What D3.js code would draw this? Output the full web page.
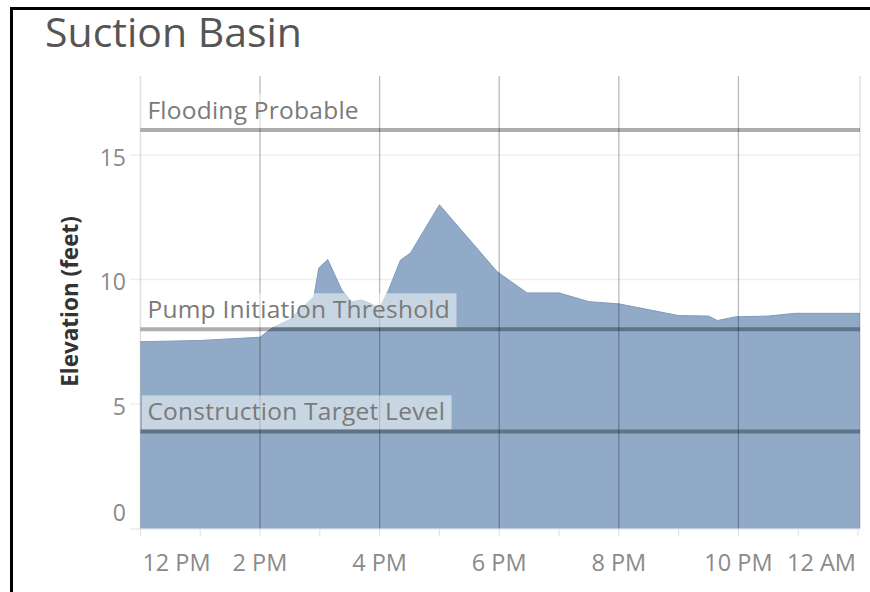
<!DOCTYPE html>
<html>
<head>
<meta charset="utf-8">
<script src="https://cdn.jsdelivr.net/npm/d3@7"></script>
<style>
  html, body { margin: 0; padding: 0; background: #fff; }
  svg { display: block; font-family: "Open Sans", "Noto Sans", sans-serif; }
</style>
</head>
<body>
<svg id="chart" width="870" height="592"></svg>
<script>
// ---------- data ----------
const chartTitle = "Suction Basin";
const yAxisTitle = "Elevation (feet)";
const times = [
  "2024-01-01 12:00", "2024-01-01 13:00", "2024-01-01 14:00", "2024-01-01 14:12",
  "2024-01-01 14:29", "2024-01-01 14:54", "2024-01-01 14:59", "2024-01-01 15:08",
  "2024-01-01 15:22", "2024-01-01 15:32", "2024-01-01 15:42", "2024-01-01 15:49",
  "2024-01-01 16:00", "2024-01-01 16:09", "2024-01-01 16:21", "2024-01-01 16:31",
  "2024-01-01 17:00", "2024-01-01 17:58", "2024-01-01 18:28", "2024-01-01 19:00",
  "2024-01-01 19:30", "2024-01-01 20:00", "2024-01-01 21:00", "2024-01-01 21:30",
  "2024-01-01 21:39", "2024-01-01 21:57", "2024-01-01 22:30", "2024-01-01 22:57",
  "2024-01-02 00:02"
];
const elevation = [
  7.50, 7.55, 7.68, 8.05,
  8.37, 9.30, 10.46, 10.80,
  9.58, 9.10, 9.18, 9.06,
  8.85, 9.58, 10.78, 11.06,
  13.00, 10.31, 9.46, 9.46,
  9.11, 9.02, 8.55, 8.53,
  8.35, 8.50, 8.53, 8.64,
  8.64
];
const refLabels = ["Flooding Probable", "Pump Initiation Threshold", "Construction Target Level"];
const refValues = [16, 8, 3.9];
const yTickValues = [0, 5, 10, 15];
const xTickTimes = [
  "2024-01-01 12:00", "2024-01-01 14:00", "2024-01-01 16:00", "2024-01-01 18:00",
  "2024-01-01 20:00", "2024-01-01 22:00", "2024-01-02 00:00"
];
const xTickLabels = ["12 PM", "2 PM", "4 PM", "6 PM", "8 PM", "10 PM", "12 AM"];
const xDomain = ["2024-01-01 12:00", "2024-01-02 00:02"];
const yDomain = [0, 18.17];

// ---------- setup ----------
const parse = d3.timeParse("%Y-%m-%d %H:%M");
const data = times.map((t, i) => ({ t: parse(t), v: elevation[i] }));

const svg = d3.select("#chart");
const pane = { left: 140.4, right: 860, top: 76, bottom: 528.5 };

const x = d3.scaleTime()
  .domain(xDomain.map(parse))
  .range([pane.left, pane.right]);
const y = d3.scaleLinear()
  .domain(yDomain)
  .range([pane.bottom, pane.top]);

// frame
svg.append("path")
  .attr("d", "M11.5,592 V8.5 H870")
  .attr("fill", "none")
  .attr("stroke", "#000")
  .attr("stroke-width", 3);

// title
svg.append("text")
  .attr("x", 45).attr("y", 47)
  .attr("font-size", 41)
  .attr("fill", "#555")
  .text(chartTitle);

// horizontal gridlines
svg.append("g").selectAll("line")
  .data(yTickValues.filter(v => v > 0))
  .join("line")
  .attr("x1", 130).attr("x2", pane.right)
  .attr("y1", d => y(d)).attr("y2", d => y(d))
  .attr("stroke", "#efefef").attr("stroke-width", 1.5);

// baseline and hourly ticks
svg.append("line")
  .attr("x1", 130).attr("x2", pane.right)
  .attr("y1", y(0) + 0.5).attr("y2", y(0) + 0.5)
  .attr("stroke", "#e4e4e4").attr("stroke-width", 1.2);
const hourTicks = x.ticks(d3.timeHour.every(1));
svg.append("g").selectAll("line")
  .data(hourTicks)
  .join("line")
  .attr("x1", d => x(d)).attr("x2", d => x(d))
  .attr("y1", y(0)).attr("y2", y(0) + 8)
  .attr("stroke", "#e4e4e4").attr("stroke-width", 1.2);

// area
const area = d3.area()
  .x(d => x(d.t))
  .y0(y(0))
  .y1(d => y(d.v));
svg.append("path")
  .datum(data)
  .attr("d", area)
  .attr("fill", "rgb(145,170,199)");
svg.append("path")
  .datum(data)
  .attr("d", d3.line().x(d => x(d.t)).y(d => y(d.v)))
  .attr("fill", "none")
  .attr("stroke", "rgb(128,155,188)")
  .attr("stroke-width", 1);

// pane edges
svg.append("g").selectAll("line")
  .data([pane.left, pane.right])
  .join("line")
  .attr("x1", d => d).attr("x2", d => d)
  .attr("y1", pane.top).attr("y2", pane.bottom)
  .attr("stroke", "rgba(0,0,0,0.12)").attr("stroke-width", 1.5);

// vertical gridlines
svg.append("g").selectAll("line")
  .data(xTickTimes.slice(1, -1).map(parse))
  .join("line")
  .attr("x1", d => x(d)).attr("x2", d => x(d))
  .attr("y1", pane.top).attr("y2", pane.bottom)
  .attr("stroke", "rgba(0,0,0,0.27)").attr("stroke-width", 1.3);

// reference lines with labels
const refG = svg.append("g");
refValues.forEach((v, i) => {
  const yy = y(v);
  const g = refG.append("g");
  const box = g.append("rect")
    .attr("fill", "rgba(255,255,255,0.5)");
  const txt = g.append("text")
    .attr("x", pane.left + 7)
    .attr("y", yy - 11)
    .attr("font-size", 24.5)
    .attr("letter-spacing", 0.25)
    .attr("fill", "#7a7a7a")
    .text(refLabels[i]);
  const w = txt.node().getComputedTextLength();
  box.attr("x", pane.left + 1.5)
    .attr("y", yy - 36)
    .attr("width", w + 12)
    .attr("height", 34);
  g.append("line")
    .attr("x1", pane.left).attr("x2", pane.right)
    .attr("y1", yy).attr("y2", yy)
    .attr("stroke", "rgba(0,0,0,0.32)")
    .attr("stroke-width", 4);
});

// y axis labels
svg.append("g").selectAll("text")
  .data(yTickValues)
  .join("text")
  .attr("x", 126)
  .attr("y", d => Math.min(y(d) + 11, pane.bottom - 7.5))
  .attr("text-anchor", "end")
  .attr("font-size", 23)
  .attr("fill", "#8a8a8a")
  .text(d => d3.format("d")(d));

// y axis title
svg.append("text")
  .attr("transform", "translate(78,301.5) rotate(-90)")
  .attr("text-anchor", "middle")
  .attr("font-size", 22.5)
  .attr("font-weight", 700)
  .attr("fill", "#333")
  .text(yAxisTitle);

// x axis labels
svg.append("g").selectAll("text")
  .data(xTickTimes.map(parse))
  .join("text")
  .attr("x", (d, i) => i === 0 ? pane.left + 2 : i === xTickTimes.length - 1 ? pane.right - 4 : x(d))
  .attr("y", 571)
  .attr("text-anchor", (d, i) => i === 0 ? "start" : i === xTickTimes.length - 1 ? "end" : "middle")
  .attr("font-size", 23.5)
  .attr("fill", "#8a8a8a")
  .text((d, i) => xTickLabels[i]);
</script>
</body>
</html>
